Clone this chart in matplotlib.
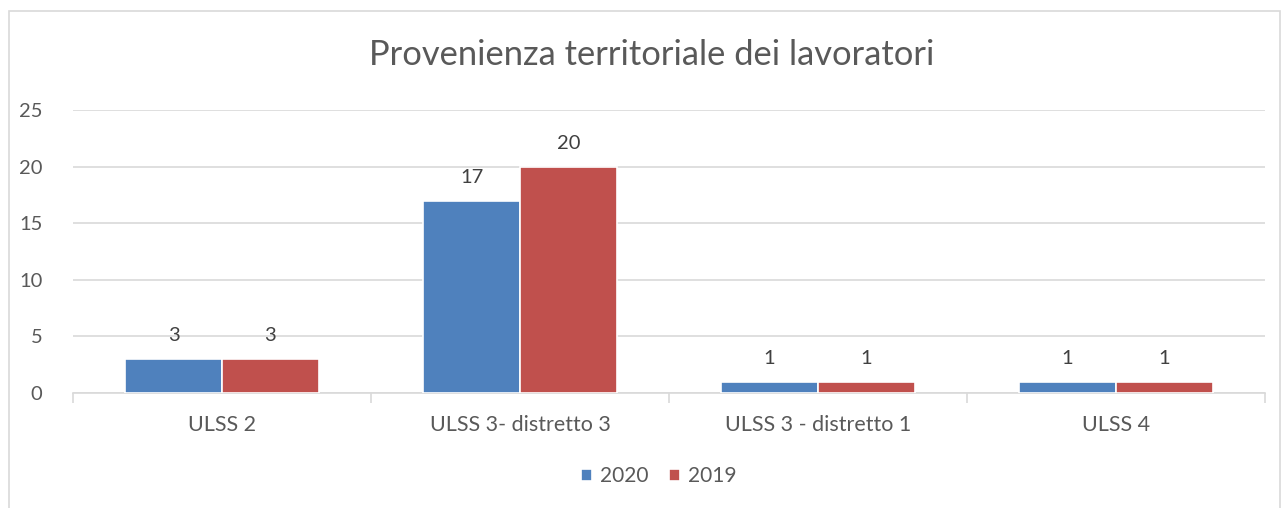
import matplotlib.pyplot as plt
import numpy as np
from matplotlib.patches import Rectangle

# Data
categories = ["ULSS 2", "ULSS 3- distretto 3", "ULSS 3 - distretto 1", "ULSS 4"]
values_2020 = [3, 17, 1, 1]
values_2019 = [3, 20, 1, 1]
series_names = ["2020", "2019"]
colors = ["#4F81BD", "#C0504D"]

plt.rcParams["font.family"] = ["Lato", "DejaVu Sans"]
text_color = "#595959"
grid_color = "#D9D9D9"

fig = plt.figure(figsize=(12.83, 5.08), dpi=100)
ax = fig.add_axes([73 / 1283, 1 - 393 / 508, (1265 - 73) / 1283, (393 - 110) / 508])

# Chart border
fig.patches.append(
    Rectangle((9 / 1283, -0.02), (1280 - 9) / 1283, 1.02 - 11 / 508,
              transform=fig.transFigure, fill=False, edgecolor=grid_color, linewidth=1.2)
)

x = np.arange(len(categories))
width = 0.325
for i, (vals, name) in enumerate([(values_2020, series_names[0]), (values_2019, series_names[1])]):
    offset = (i - 0.5) * width
    bars = ax.bar(x + offset, vals, width, color=colors[i], edgecolor="white",
                  linewidth=1.2, label=name, zorder=3)
    for b, v in zip(bars, vals):
        ax.text(b.get_x() + b.get_width() / 2, v + 1.3, str(v), ha="center",
                va="bottom", fontsize=14.5, color="#404040")

ax.set_xlim(-0.5, len(categories) - 0.5)
ax.set_ylim(0, 25)
ax.set_yticks([0, 5, 10, 15, 20, 25])
ax.yaxis.grid(True, color=grid_color, linewidth=1.2, zorder=0)
ax.set_axisbelow(True)

ax.set_xticks(x)
ax.set_xticklabels(categories)
ax.set_xticks(np.arange(-0.5, len(categories)), minor=True)
ax.tick_params(axis="x", which="major", length=0, pad=16, labelsize=15.5, labelcolor=text_color)
ax.tick_params(axis="x", which="minor", length=7, color=grid_color, width=1.2)
ax.tick_params(axis="y", length=0, pad=22, labelsize=14.5, labelcolor=text_color)

for side in ["top", "right", "left"]:
    ax.spines[side].set_visible(False)
ax.spines["bottom"].set_color(grid_color)
ax.spines["bottom"].set_linewidth(1.2)

fig.text(652 / 1283, 1 - 55 / 508, "Provenienza territoriale dei lavoratori",
         ha="center", va="center", fontsize=24.8, color=text_color)

fig.legend(loc="center", bbox_to_anchor=(659 / 1283, 1 - 476 / 508), ncol=2,
           frameon=False, fontsize=15, handlelength=0.5, handleheight=0.5,
           handletextpad=0.4, columnspacing=1.0, labelcolor=text_color)

fig.savefig("out.png", dpi=100)
